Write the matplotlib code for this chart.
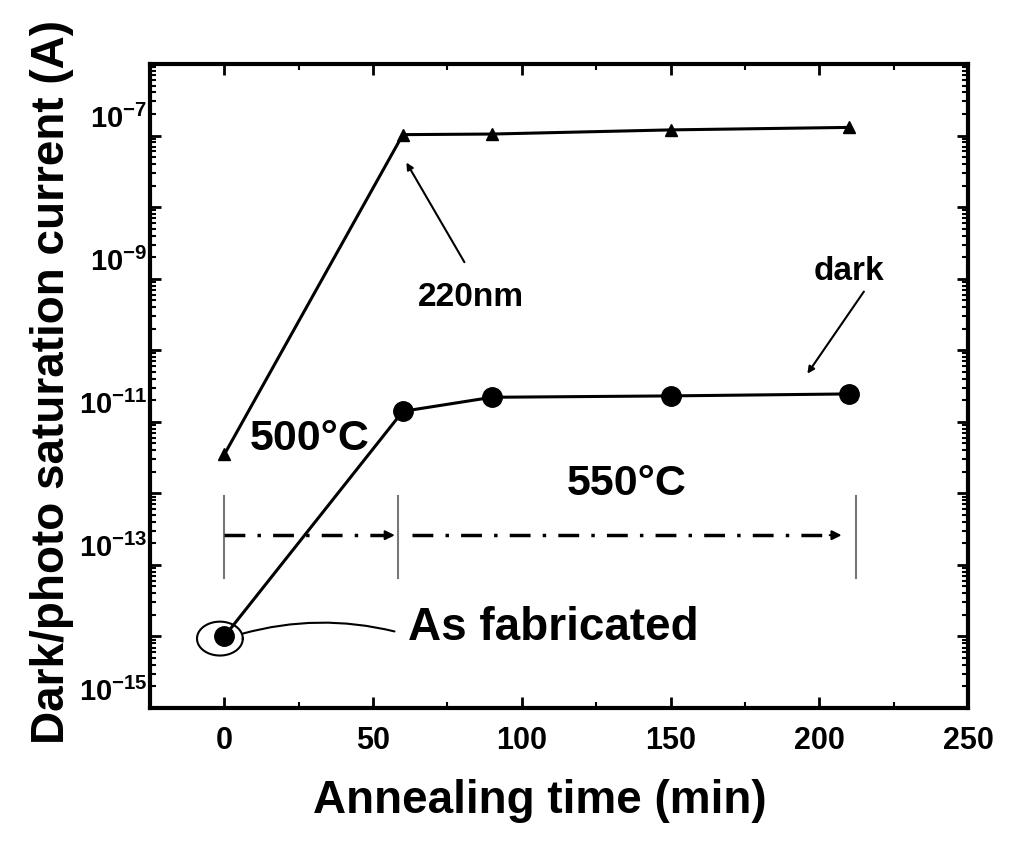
import numpy as np
import matplotlib
matplotlib.use("Agg")
import matplotlib.pyplot as plt
from matplotlib.ticker import FixedLocator, LogLocator, MultipleLocator, FuncFormatter, NullFormatter
from matplotlib.transforms import ScaledTranslation

plt.rcParams["font.family"] = ["Liberation Sans", "DejaVu Sans"]
plt.rcParams["font.weight"] = "bold"
plt.rcParams["mathtext.fontset"] = "custom"
plt.rcParams["mathtext.rm"] = "Liberation Sans:bold"
plt.rcParams["mathtext.bf"] = "Liberation Sans:bold"
plt.rcParams["mathtext.default"] = "bf"

# data
time_min = [0, 60, 90, 150, 210]
photo_current = [3.5e-12, 1.03e-7, 1.05e-7, 1.2e-7, 1.3e-7]   # 220nm illumination
dark_current = [1.0e-14, 1.4e-11, 2.2e-11, 2.3e-11, 2.45e-11]

x_ticks = [0, 50, 100, 150, 200, 250]
y_decades = np.arange(-15, -5)
y_labelled = [-7, -9, -11, -13, -15]

# annealing stages (start, end of 500C step, end of 550C step)
stage_bounds = [0, 58.5, 212.5]
stage_level = 2.6e-13

fig = plt.figure(figsize=(10.24, 8.42), dpi=100)
fig.patch.set_facecolor("white")
ax = fig.add_axes([150/1024, 1-708/842, (968-150)/1024, (708-64)/842])

ax.plot(time_min, photo_current, color="black", lw=2.2, marker="^", markersize=8)
ax.plot(time_min, dark_current, color="black", lw=2.2, marker="o", markersize=14)

ax.set_yscale("log")
ax.set_xlim(-25, 250)
ax.set_ylim(1e-15, 1e-6)

ax.xaxis.set_major_locator(FixedLocator(x_ticks))
ax.xaxis.set_minor_locator(MultipleLocator(25))
ax.yaxis.set_major_locator(FixedLocator(10.0 ** y_decades))
ax.yaxis.set_minor_locator(LogLocator(base=10, subs=np.arange(2, 10), numticks=200))
ax.yaxis.set_minor_formatter(NullFormatter())


def y_fmt(v, pos):
    e = int(round(np.log10(v)))
    if e in y_labelled:
        return r"$\mathbf{10^{%d}}$" % e
    return ""


ax.yaxis.set_major_formatter(FuncFormatter(y_fmt))

ax.tick_params(which="both", direction="in", top=True, right=True)
ax.tick_params(which="major", length=8, width=2)
ax.tick_params(which="minor", length=4, width=1.5)
ax.tick_params(axis="x", which="major", labelsize=22, pad=13)
ax.tick_params(axis="y", which="major", labelsize=21, pad=2)
for s in ax.spines.values():
    s.set_linewidth(3)

# y labels sit a bit above their ticks in the original
for t in ax.yaxis.get_major_ticks():
    t.label1.set_transform(t.label1.get_transform() + ScaledTranslation(0, 0.19, fig.dpi_scale_trans))

ax.set_xlabel("Annealing time (min)", fontsize=33, fontweight="bold")
ax.set_ylabel("Dark/photo saturation current (A)", fontsize=33, fontweight="bold")
ax.xaxis.set_label_coords(0.476, -0.11)
ax.yaxis.set_label_coords(-0.093, 0.506)

# stage markers
for xb in stage_bounds:
    ax.plot([xb, xb], [6.5e-14, 9.3e-13], color="#777777", lw=1.5)
ax.plot([0, 56], [stage_level, stage_level], color="black", lw=2.5, dashes=(6, 3.5, 1, 3.5))
ax.plot([63, 206], [stage_level, stage_level], color="black", lw=2.5, dashes=(6, 3.5, 1, 3.5))
for x_tip in [57.3, 207.5]:
    ax.annotate("", xy=(x_tip, stage_level), xytext=(x_tip - 4, stage_level),
                arrowprops=dict(arrowstyle="-|>", color="black", lw=1.5, mutation_scale=14,
                                shrinkA=0, shrinkB=0))

ax.text(28.7, 5.7e-12, "500°C", fontsize=31, fontweight="bold", ha="center", va="center")
ax.text(135.4, 1.35e-12, "550°C", fontsize=31, fontweight="bold", ha="center", va="center")

ax.text(83, 5.5e-10, "220nm", fontsize=24, fontweight="bold", ha="center", va="center")
ax.annotate("", xy=(61.2, 4.2e-8), xytext=(80.7, 1.7e-9),
            arrowprops=dict(arrowstyle="-|>", color="black", lw=1.5, mutation_scale=10,
                            shrinkA=0, shrinkB=0))

ax.text(210, 1.26e-9, "dark", fontsize=24, fontweight="bold", ha="center", va="center")
ax.annotate("", xy=(196, 4.7e-11), xytext=(215, 6.6e-10),
            arrowprops=dict(arrowstyle="-|>", color="black", lw=1.5, mutation_scale=10,
                            shrinkA=0, shrinkB=0))

# ellipse round the as-fabricated point
t = np.linspace(0, 2 * np.pi, 200)
ax.plot(-1.5 + 7.7 * np.cos(t), 10 ** (-14.03 + 0.237 * np.sin(t)), color="black", lw=1.5)
ax.annotate("", xy=(57.2, 10 ** -13.93), xytext=(6.2, 10 ** -13.96),
            arrowprops=dict(arrowstyle="-", color="black", lw=1.5, shrinkA=0, shrinkB=0,
                            connectionstyle="arc3,rad=-0.13"))
ax.text(61.6, 1.3e-14, "As fabricated", fontsize=33, fontweight="bold", ha="left", va="center")

fig.savefig("out.png", dpi=100)
